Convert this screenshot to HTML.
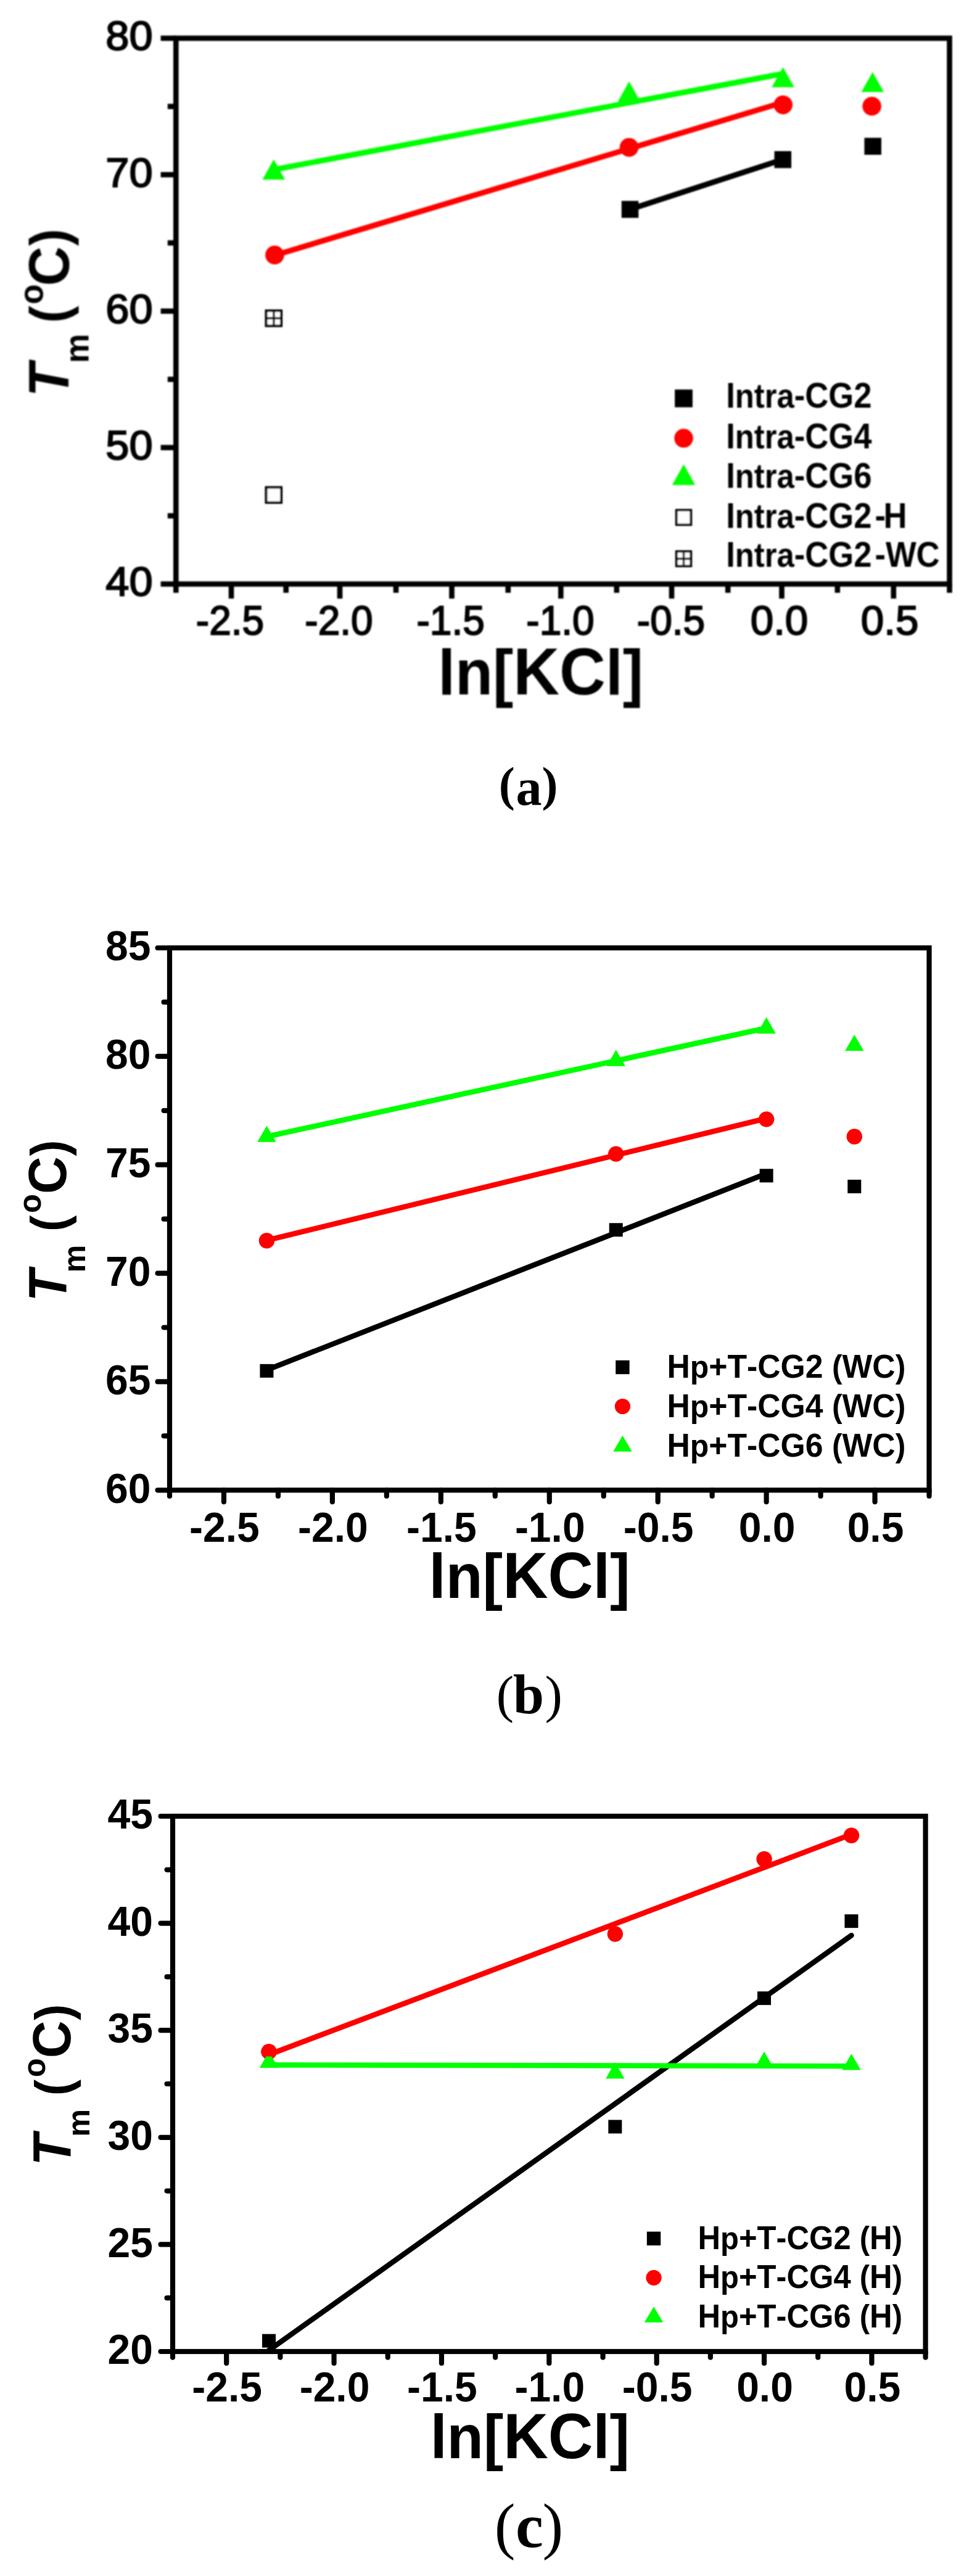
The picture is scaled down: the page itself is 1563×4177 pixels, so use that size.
<!DOCTYPE html>
<html lang="en"><head><meta charset="utf-8"><title>Tm versus ln[KCl]</title>
<style>html,body{margin:0;padding:0;background:#fff}svg{display:block}text{fill:#000;font-kerning:none;font-variant-ligatures:none}</style>
</head><body>
<svg width="1563" height="4177" viewBox="0 0 1563 4177">
<rect x="0" y="0" width="1563" height="4177" fill="#fff"/>
<!-- chart a -->
<defs><filter id="soft" x="-2%" y="-2%" width="104%" height="104%"><feGaussianBlur stdDeviation="0.85"/></filter></defs>
<g filter="url(#soft)">
<line x1="444.5" y1="275" x2="1269.5" y2="119.5" stroke="#0f0" stroke-width="9" stroke-linecap="butt"/>
<line x1="445.4" y1="414" x2="1269.7" y2="166" stroke="#f00" stroke-width="9" stroke-linecap="butt"/>
<line x1="1021.5" y1="339.5" x2="1269.5" y2="258.5" stroke="#000" stroke-width="9" stroke-linecap="butt"/>
<rect x="1007.75" y="325.75" width="27.5" height="27.5" fill="#000"/>
<rect x="1255.55" y="245.05" width="27.5" height="27.5" fill="#000"/>
<rect x="1401.45" y="223.45" width="27.5" height="27.5" fill="#000"/>
<circle cx="445.4" cy="413.5" r="15.25" fill="#f00"/>
<circle cx="1020" cy="239" r="15.25" fill="#f00"/>
<circle cx="1269.7" cy="170" r="15.25" fill="#f00"/>
<circle cx="1413.6" cy="172.2" r="15.25" fill="#f00"/>
<polygon points="443.8,258.4 425.5,291.2 462.1,291.2" fill="#0f0"/>
<polygon points="1020,132 1001.7,165 1038.3,165" fill="#0f0"/>
<polygon points="1269.5,109 1251.2,141.4 1287.8,141.4" fill="#0f0"/>
<polygon points="1414.8,117 1396.5,149.2 1433.1,149.2" fill="#0f0"/>
<rect x="431.5" y="790.3" width="24.6" height="24.6" fill="#fff" stroke="#000" stroke-width="4"/>
<rect x="431.5" y="503.8" width="24.6" height="24.6" fill="#fff" stroke="#000" stroke-width="4"/>
<line x1="443.8" y1="503.8" x2="443.8" y2="528.4" stroke="#000" stroke-width="3.6" stroke-linecap="butt"/>
<line x1="431.5" y1="516.1" x2="456.1" y2="516.1" stroke="#000" stroke-width="3.6" stroke-linecap="butt"/>
<rect x="285.3" y="62" width="1254.2" height="885" fill="none" stroke="#000" stroke-width="8.6"/>
<line x1="260.6" y1="62" x2="285.3" y2="62" stroke="#000" stroke-width="8.6" stroke-linecap="butt"/>
<text transform="translate(247.6,81.4) scale(1.0400,1)" font-family='"Liberation Sans", Arial, Helvetica, sans-serif' font-size="66" font-weight="normal" font-style="normal" text-anchor="end" stroke="#000" stroke-width="2">80</text>
<line x1="271.8" y1="172.62" x2="285.3" y2="172.62" stroke="#000" stroke-width="8.6" stroke-linecap="butt"/>
<line x1="260.6" y1="283.25" x2="285.3" y2="283.25" stroke="#000" stroke-width="8.6" stroke-linecap="butt"/>
<text transform="translate(247.6,302.65) scale(1.0400,1)" font-family='"Liberation Sans", Arial, Helvetica, sans-serif' font-size="66" font-weight="normal" font-style="normal" text-anchor="end" stroke="#000" stroke-width="2">70</text>
<line x1="271.8" y1="393.88" x2="285.3" y2="393.88" stroke="#000" stroke-width="8.6" stroke-linecap="butt"/>
<line x1="260.6" y1="504.5" x2="285.3" y2="504.5" stroke="#000" stroke-width="8.6" stroke-linecap="butt"/>
<text transform="translate(247.6,523.9) scale(1.0400,1)" font-family='"Liberation Sans", Arial, Helvetica, sans-serif' font-size="66" font-weight="normal" font-style="normal" text-anchor="end" stroke="#000" stroke-width="2">60</text>
<line x1="271.8" y1="615.12" x2="285.3" y2="615.12" stroke="#000" stroke-width="8.6" stroke-linecap="butt"/>
<line x1="260.6" y1="725.75" x2="285.3" y2="725.75" stroke="#000" stroke-width="8.6" stroke-linecap="butt"/>
<text transform="translate(247.6,745.15) scale(1.0400,1)" font-family='"Liberation Sans", Arial, Helvetica, sans-serif' font-size="66" font-weight="normal" font-style="normal" text-anchor="end" stroke="#000" stroke-width="2">50</text>
<line x1="271.8" y1="836.38" x2="285.3" y2="836.38" stroke="#000" stroke-width="8.6" stroke-linecap="butt"/>
<line x1="260.6" y1="947" x2="285.3" y2="947" stroke="#000" stroke-width="8.6" stroke-linecap="butt"/>
<text transform="translate(247.6,966.4) scale(1.0400,1)" font-family='"Liberation Sans", Arial, Helvetica, sans-serif' font-size="66" font-weight="normal" font-style="normal" text-anchor="end" stroke="#000" stroke-width="2">40</text>
<line x1="285.3" y1="947" x2="285.3" y2="961.2" stroke="#000" stroke-width="8.6" stroke-linecap="butt"/>
<line x1="375" y1="947" x2="375" y2="970.6" stroke="#000" stroke-width="8.6" stroke-linecap="butt"/>
<text transform="translate(373,1028.8) scale(0.9700,1)" font-family='"Liberation Sans", Arial, Helvetica, sans-serif' font-size="66" font-weight="normal" font-style="normal" text-anchor="middle" stroke="#000" stroke-width="2">-2.5</text>
<line x1="463.7" y1="947" x2="463.7" y2="961.2" stroke="#000" stroke-width="8.6" stroke-linecap="butt"/>
<line x1="551" y1="947" x2="551" y2="970.6" stroke="#000" stroke-width="8.6" stroke-linecap="butt"/>
<text transform="translate(549.5,1028.8) scale(0.9700,1)" font-family='"Liberation Sans", Arial, Helvetica, sans-serif' font-size="66" font-weight="normal" font-style="normal" text-anchor="middle" stroke="#000" stroke-width="2">-2.0</text>
<line x1="642" y1="947" x2="642" y2="961.2" stroke="#000" stroke-width="8.6" stroke-linecap="butt"/>
<line x1="732.5" y1="947" x2="732.5" y2="970.6" stroke="#000" stroke-width="8.6" stroke-linecap="butt"/>
<text transform="translate(730.7,1028.8) scale(0.9700,1)" font-family='"Liberation Sans", Arial, Helvetica, sans-serif' font-size="66" font-weight="normal" font-style="normal" text-anchor="middle" stroke="#000" stroke-width="2">-1.5</text>
<line x1="823.8" y1="947" x2="823.8" y2="961.2" stroke="#000" stroke-width="8.6" stroke-linecap="butt"/>
<line x1="909.3" y1="947" x2="909.3" y2="970.6" stroke="#000" stroke-width="8.6" stroke-linecap="butt"/>
<text transform="translate(908.5,1028.8) scale(0.9700,1)" font-family='"Liberation Sans", Arial, Helvetica, sans-serif' font-size="66" font-weight="normal" font-style="normal" text-anchor="middle" stroke="#000" stroke-width="2">-1.0</text>
<line x1="999.8" y1="947" x2="999.8" y2="961.2" stroke="#000" stroke-width="8.6" stroke-linecap="butt"/>
<line x1="1089" y1="947" x2="1089" y2="970.6" stroke="#000" stroke-width="8.6" stroke-linecap="butt"/>
<text transform="translate(1088,1028.8) scale(0.9700,1)" font-family='"Liberation Sans", Arial, Helvetica, sans-serif' font-size="66" font-weight="normal" font-style="normal" text-anchor="middle" stroke="#000" stroke-width="2">-0.5</text>
<line x1="1180.2" y1="947" x2="1180.2" y2="961.2" stroke="#000" stroke-width="8.6" stroke-linecap="butt"/>
<line x1="1267.5" y1="947" x2="1267.5" y2="970.6" stroke="#000" stroke-width="8.6" stroke-linecap="butt"/>
<text transform="translate(1263.5,1028.8) scale(1.0200,1)" font-family='"Liberation Sans", Arial, Helvetica, sans-serif' font-size="66" font-weight="normal" font-style="normal" text-anchor="middle" stroke="#000" stroke-width="2">0.0</text>
<line x1="1357.8" y1="947" x2="1357.8" y2="961.2" stroke="#000" stroke-width="8.6" stroke-linecap="butt"/>
<line x1="1448.8" y1="947" x2="1448.8" y2="970.6" stroke="#000" stroke-width="8.6" stroke-linecap="butt"/>
<text transform="translate(1442.6,1028.8) scale(1.0200,1)" font-family='"Liberation Sans", Arial, Helvetica, sans-serif' font-size="66" font-weight="normal" font-style="normal" text-anchor="middle" stroke="#000" stroke-width="2">0.5</text>
<line x1="1539.5" y1="947" x2="1539.5" y2="961.2" stroke="#000" stroke-width="8.6" stroke-linecap="butt"/>
<rect x="1094.1" y="631.6" width="28.8" height="28.8" fill="#000"/>
<circle cx="1108.5" cy="710.6" r="15.25" fill="#f00"/>
<polygon points="1108.5,753 1089.8,786.4 1127.2,786.4" fill="#0f0"/>
<rect x="1096.7" y="827.2" width="23.6" height="23.6" fill="#fff" stroke="#000" stroke-width="3.8"/>
<rect x="1096.7" y="894.2" width="23.6" height="23.6" fill="#fff" stroke="#000" stroke-width="3.8"/>
<line x1="1108.5" y1="894.2" x2="1108.5" y2="917.8" stroke="#000" stroke-width="3.4" stroke-linecap="butt"/>
<line x1="1096.7" y1="906" x2="1120.3" y2="906" stroke="#000" stroke-width="3.4" stroke-linecap="butt"/>
<text transform="translate(1177.2,661) scale(0.9115,1)" font-family='"Liberation Sans", Arial, Helvetica, sans-serif' font-size="57.72" font-weight="bold" text-anchor="start">I<tspan font-size="55.7">ntra</tspan>-CG2</text>
<text transform="translate(1177.2,727.4) scale(0.9115,1)" font-family='"Liberation Sans", Arial, Helvetica, sans-serif' font-size="57.72" font-weight="bold" text-anchor="start">I<tspan font-size="55.7">ntra</tspan>-CG4</text>
<text transform="translate(1177.2,790.6) scale(0.9115,1)" font-family='"Liberation Sans", Arial, Helvetica, sans-serif' font-size="57.72" font-weight="bold" text-anchor="start">I<tspan font-size="55.7">ntra</tspan>-CG6</text>
<text transform="translate(1177.2,856) scale(0.9115,1)" font-family='"Liberation Sans", Arial, Helvetica, sans-serif' font-size="57.72" font-weight="bold" text-anchor="start">I<tspan font-size="55.7">ntra</tspan>-CG2<tspan dx="5.5" letter-spacing="-3.8">-H</tspan></text>
<text transform="translate(1177.2,918.6) scale(0.9115,1)" font-family='"Liberation Sans", Arial, Helvetica, sans-serif' font-size="57.72" font-weight="bold" text-anchor="start">I<tspan font-size="55.7">ntra</tspan>-CG2<tspan dx="5.5">-WC</tspan></text>
<text transform="translate(111.5,637) rotate(-90) scale(0.9615,1)" font-family='"Liberation Sans", Arial, Helvetica, sans-serif' font-weight="bold" font-size="92.56"><tspan x="-6.66" y="0" font-style="italic">T</tspan><tspan x="50.13" y="32" font-size="55.55">m</tspan><tspan x="93.61" y="-2" font-size="87"> (</tspan><tspan x="149.24" y="-42.5" font-size="55.55">o</tspan><tspan x="180.13" y="0">C</tspan><tspan x="247.73" y="-2" font-size="87">)</tspan></text>
<text transform="translate(876.6,1126.3) scale(0.9615,1)" font-family='"Liberation Sans", Arial, Helvetica, sans-serif' font-size="107.74" font-weight="bold" text-anchor="middle"><tspan font-size="103.97">ln[</tspan>KC<tspan font-size="103.97">l]</tspan></text>
</g>
<text font-family='"Liberation Serif", "Times New Roman", serif' font-weight="bold"><tspan x="808.8" y="1297.5" font-size="78">(</tspan><tspan x="836.5" y="1305.2" font-size="84" font-weight="bold">a</tspan><tspan x="878.6" y="1297.5" font-size="78">)</tspan></text>
<!-- chart b -->
<g>
<line x1="432.43" y1="2221.45" x2="1242.61" y2="1903.05" stroke="#000" stroke-width="8.6" stroke-linecap="butt"/>
<line x1="432.43" y1="2011.25" x2="1242.61" y2="1813.52" stroke="#f00" stroke-width="8.6" stroke-linecap="butt"/>
<line x1="432.43" y1="1842.96" x2="1242.61" y2="1667.06" stroke="#0f0" stroke-width="8.6" stroke-linecap="butt"/>
<rect x="421.43" y="2211.85" width="22" height="22" fill="#000"/>
<rect x="987.72" y="1983.24" width="22" height="22" fill="#000"/>
<rect x="1231.61" y="1895.31" width="22" height="22" fill="#000"/>
<rect x="1374.27" y="1912.89" width="22" height="22" fill="#000"/>
<circle cx="432.43" cy="2011.82" r="12.7" fill="#f00"/>
<circle cx="998.72" cy="1871.13" r="12.7" fill="#f00"/>
<circle cx="1242.61" cy="1814.86" r="12.7" fill="#f00"/>
<circle cx="1385.27" cy="1843" r="12.7" fill="#f00"/>
<polygon points="432.43,1825.4 417.23,1851.8 447.63,1851.8" fill="#0f0"/>
<polygon points="998.72,1702.29 983.52,1728.69 1013.92,1728.69" fill="#0f0"/>
<polygon points="1242.61,1649.54 1227.41,1675.94 1257.81,1675.94" fill="#0f0"/>
<polygon points="1385.27,1677.67 1370.07,1704.07 1400.47,1704.07" fill="#0f0"/>
<rect x="275" y="1537" width="1231.5" height="879.3" fill="none" stroke="#000" stroke-width="8.2"/>
<line x1="255.6" y1="1537" x2="275" y2="1537" stroke="#000" stroke-width="8.2" stroke-linecap="round"/>
<text transform="translate(244.5,1557.2) scale(0.9615,1)" font-family='"Liberation Sans", Arial, Helvetica, sans-serif' font-size="68.64" font-weight="bold" font-style="normal" text-anchor="end">85</text>
<line x1="265.6" y1="1624.93" x2="275" y2="1624.93" stroke="#000" stroke-width="8.2" stroke-linecap="round"/>
<line x1="255.6" y1="1712.86" x2="275" y2="1712.86" stroke="#000" stroke-width="8.2" stroke-linecap="round"/>
<text transform="translate(244.5,1733.06) scale(0.9615,1)" font-family='"Liberation Sans", Arial, Helvetica, sans-serif' font-size="68.64" font-weight="bold" font-style="normal" text-anchor="end">80</text>
<line x1="265.6" y1="1800.79" x2="275" y2="1800.79" stroke="#000" stroke-width="8.2" stroke-linecap="round"/>
<line x1="255.6" y1="1888.72" x2="275" y2="1888.72" stroke="#000" stroke-width="8.2" stroke-linecap="round"/>
<text transform="translate(244.5,1908.92) scale(0.9615,1)" font-family='"Liberation Sans", Arial, Helvetica, sans-serif' font-size="68.64" font-weight="bold" font-style="normal" text-anchor="end">75</text>
<line x1="265.6" y1="1976.65" x2="275" y2="1976.65" stroke="#000" stroke-width="8.2" stroke-linecap="round"/>
<line x1="255.6" y1="2064.58" x2="275" y2="2064.58" stroke="#000" stroke-width="8.2" stroke-linecap="round"/>
<text transform="translate(244.5,2084.78) scale(0.9615,1)" font-family='"Liberation Sans", Arial, Helvetica, sans-serif' font-size="68.64" font-weight="bold" font-style="normal" text-anchor="end">70</text>
<line x1="265.6" y1="2152.51" x2="275" y2="2152.51" stroke="#000" stroke-width="8.2" stroke-linecap="round"/>
<line x1="255.6" y1="2240.44" x2="275" y2="2240.44" stroke="#000" stroke-width="8.2" stroke-linecap="round"/>
<text transform="translate(244.5,2260.64) scale(0.9615,1)" font-family='"Liberation Sans", Arial, Helvetica, sans-serif' font-size="68.64" font-weight="bold" font-style="normal" text-anchor="end">65</text>
<line x1="265.6" y1="2328.37" x2="275" y2="2328.37" stroke="#000" stroke-width="8.2" stroke-linecap="round"/>
<line x1="255.6" y1="2416.3" x2="275" y2="2416.3" stroke="#000" stroke-width="8.2" stroke-linecap="round"/>
<text transform="translate(244.5,2436.5) scale(0.9615,1)" font-family='"Liberation Sans", Arial, Helvetica, sans-serif' font-size="68.64" font-weight="bold" font-style="normal" text-anchor="end">60</text>
<line x1="275" y1="2416.3" x2="275" y2="2425.9" stroke="#000" stroke-width="8.2" stroke-linecap="round"/>
<line x1="362.96" y1="2416.3" x2="362.96" y2="2435.3" stroke="#000" stroke-width="8.2" stroke-linecap="round"/>
<text transform="translate(363.96,2499.6) scale(0.9615,1)" font-family='"Liberation Sans", Arial, Helvetica, sans-serif' font-size="68.64" font-weight="bold" font-style="normal" text-anchor="middle">-2.5</text>
<line x1="450.93" y1="2416.3" x2="450.93" y2="2425.9" stroke="#000" stroke-width="8.2" stroke-linecap="round"/>
<line x1="538.89" y1="2416.3" x2="538.89" y2="2435.3" stroke="#000" stroke-width="8.2" stroke-linecap="round"/>
<text transform="translate(539.89,2499.6) scale(0.9615,1)" font-family='"Liberation Sans", Arial, Helvetica, sans-serif' font-size="68.64" font-weight="bold" font-style="normal" text-anchor="middle">-2.0</text>
<line x1="626.86" y1="2416.3" x2="626.86" y2="2425.9" stroke="#000" stroke-width="8.2" stroke-linecap="round"/>
<line x1="714.82" y1="2416.3" x2="714.82" y2="2435.3" stroke="#000" stroke-width="8.2" stroke-linecap="round"/>
<text transform="translate(715.82,2499.6) scale(0.9615,1)" font-family='"Liberation Sans", Arial, Helvetica, sans-serif' font-size="68.64" font-weight="bold" font-style="normal" text-anchor="middle">-1.5</text>
<line x1="802.79" y1="2416.3" x2="802.79" y2="2425.9" stroke="#000" stroke-width="8.2" stroke-linecap="round"/>
<line x1="890.75" y1="2416.3" x2="890.75" y2="2435.3" stroke="#000" stroke-width="8.2" stroke-linecap="round"/>
<text transform="translate(891.75,2499.6) scale(0.9615,1)" font-family='"Liberation Sans", Arial, Helvetica, sans-serif' font-size="68.64" font-weight="bold" font-style="normal" text-anchor="middle">-1.0</text>
<line x1="978.71" y1="2416.3" x2="978.71" y2="2425.9" stroke="#000" stroke-width="8.2" stroke-linecap="round"/>
<line x1="1066.68" y1="2416.3" x2="1066.68" y2="2435.3" stroke="#000" stroke-width="8.2" stroke-linecap="round"/>
<text transform="translate(1067.68,2499.6) scale(0.9615,1)" font-family='"Liberation Sans", Arial, Helvetica, sans-serif' font-size="68.64" font-weight="bold" font-style="normal" text-anchor="middle">-0.5</text>
<line x1="1154.64" y1="2416.3" x2="1154.64" y2="2425.9" stroke="#000" stroke-width="8.2" stroke-linecap="round"/>
<line x1="1242.61" y1="2416.3" x2="1242.61" y2="2435.3" stroke="#000" stroke-width="8.2" stroke-linecap="round"/>
<text transform="translate(1243.61,2499.6) scale(0.9615,1)" font-family='"Liberation Sans", Arial, Helvetica, sans-serif' font-size="68.64" font-weight="bold" font-style="normal" text-anchor="middle">0.0</text>
<line x1="1330.57" y1="2416.3" x2="1330.57" y2="2425.9" stroke="#000" stroke-width="8.2" stroke-linecap="round"/>
<line x1="1418.54" y1="2416.3" x2="1418.54" y2="2435.3" stroke="#000" stroke-width="8.2" stroke-linecap="round"/>
<text transform="translate(1419.54,2499.6) scale(0.9615,1)" font-family='"Liberation Sans", Arial, Helvetica, sans-serif' font-size="68.64" font-weight="bold" font-style="normal" text-anchor="middle">0.5</text>
<line x1="1506.5" y1="2416.3" x2="1506.5" y2="2425.9" stroke="#000" stroke-width="8.2" stroke-linecap="round"/>
<rect x="998.2" y="2205.8" width="22.4" height="22.4" fill="#000"/>
<text transform="translate(1081.5,2233.6) scale(0.9615,1)" font-family='"Liberation Sans", Arial, Helvetica, sans-serif' font-size="53.77" font-weight="bold" text-anchor="start">H<tspan font-size="51.89">p</tspan>+T-CG2 <tspan font-size="51.89">(</tspan>WC<tspan font-size="51.89">)</tspan></text>
<circle cx="1009.4" cy="2280.5" r="12.6" fill="#f00"/>
<text transform="translate(1081.5,2297.6) scale(0.9615,1)" font-family='"Liberation Sans", Arial, Helvetica, sans-serif' font-size="53.77" font-weight="bold" text-anchor="start">H<tspan font-size="51.89">p</tspan>+T-CG4 <tspan font-size="51.89">(</tspan>WC<tspan font-size="51.89">)</tspan></text>
<polygon points="1009.4,2327.8 994.2,2353.7 1024.6,2353.7" fill="#0f0"/>
<text transform="translate(1081.5,2361.5) scale(0.9615,1)" font-family='"Liberation Sans", Arial, Helvetica, sans-serif' font-size="53.77" font-weight="bold" text-anchor="start">H<tspan font-size="51.89">p</tspan>+T-CG6 <tspan font-size="51.89">(</tspan>WC<tspan font-size="51.89">)</tspan></text>
<text transform="translate(107,2104.6) rotate(-90) scale(0.9615,1)" font-family='"Liberation Sans", Arial, Helvetica, sans-serif' font-weight="bold" font-size="87.36"><tspan x="-6.24" y="0" font-style="italic">T</tspan><tspan x="42.64" y="30.5" font-size="52.52">m</tspan><tspan x="89.07" y="0" font-size="81.9"> (</tspan><tspan x="143" y="-41" font-size="52.52">o</tspan><tspan x="175.24" y="0">C</tspan><tspan x="239.2" y="0" font-size="81.9">)</tspan></text>
<text transform="translate(858.6,2591.2) scale(0.9615,1)" font-family='"Liberation Sans", Arial, Helvetica, sans-serif' font-size="105.56" font-weight="bold" text-anchor="middle"><tspan font-size="101.87">ln[</tspan>KC<tspan font-size="101.87">l]</tspan></text>
</g>
<text font-family='"Liberation Serif", "Times New Roman", serif' font-weight="normal"><tspan x="804.7" y="2776" font-size="85">(</tspan><tspan x="832" y="2777.5" font-size="90" font-weight="bold">b</tspan><tspan x="883.5" y="2776" font-size="85">)</tspan></text>
<!-- chart c -->
<g>
<line x1="436.03" y1="3810.94" x2="1380.45" y2="3138.26" stroke="#000" stroke-width="8.6" stroke-linecap="round"/>
<line x1="436.03" y1="3331.61" x2="1380.45" y2="2974.55" stroke="#f00" stroke-width="8.6" stroke-linecap="butt"/>
<line x1="436.03" y1="3348.38" x2="1380.45" y2="3350.19" stroke="#0f0" stroke-width="8.6" stroke-linecap="butt"/>
<rect x="425.03" y="3784.64" width="22" height="22" fill="#000"/>
<rect x="986.31" y="3437.44" width="22" height="22" fill="#000"/>
<rect x="1228.04" y="3229.12" width="22" height="22" fill="#000"/>
<rect x="1369.45" y="3104.13" width="22" height="22" fill="#000"/>
<circle cx="436.03" cy="3326.92" r="12.7" fill="#f00"/>
<circle cx="997.31" cy="3135.96" r="12.7" fill="#f00"/>
<circle cx="1239.04" cy="3014.44" r="12.7" fill="#f00"/>
<circle cx="1380.45" cy="2976.25" r="12.7" fill="#f00"/>
<polygon points="436.03,3326.68 420.83,3353.08 451.23,3353.08" fill="#0f0"/>
<polygon points="997.31,3344.04 982.11,3370.44 1012.51,3370.44" fill="#0f0"/>
<polygon points="1239.04,3326.68 1223.84,3353.08 1254.24,3353.08" fill="#0f0"/>
<polygon points="1380.45,3330.15 1365.25,3356.55 1395.65,3356.55" fill="#0f0"/>
<clipPath id="topclip"><rect x="416.03" y="3306.92" width="40" height="27.6"/></clipPath>
<circle cx="436.03" cy="3326.92" r="12.7" fill="#f00" clip-path="url(#topclip)"/>
<rect x="280" y="2945" width="1220.6" height="868" fill="none" stroke="#000" stroke-width="8.2"/>
<line x1="260.6" y1="2945" x2="280" y2="2945" stroke="#000" stroke-width="8.2" stroke-linecap="round"/>
<text transform="translate(248,2965.2) scale(0.9615,1)" font-family='"Liberation Sans", Arial, Helvetica, sans-serif' font-size="68.64" font-weight="bold" font-style="normal" text-anchor="end">45</text>
<line x1="270.6" y1="3031.8" x2="280" y2="3031.8" stroke="#000" stroke-width="8.2" stroke-linecap="round"/>
<line x1="260.6" y1="3118.6" x2="280" y2="3118.6" stroke="#000" stroke-width="8.2" stroke-linecap="round"/>
<text transform="translate(248,3138.8) scale(0.9615,1)" font-family='"Liberation Sans", Arial, Helvetica, sans-serif' font-size="68.64" font-weight="bold" font-style="normal" text-anchor="end">40</text>
<line x1="270.6" y1="3205.4" x2="280" y2="3205.4" stroke="#000" stroke-width="8.2" stroke-linecap="round"/>
<line x1="260.6" y1="3292.2" x2="280" y2="3292.2" stroke="#000" stroke-width="8.2" stroke-linecap="round"/>
<text transform="translate(248,3312.4) scale(0.9615,1)" font-family='"Liberation Sans", Arial, Helvetica, sans-serif' font-size="68.64" font-weight="bold" font-style="normal" text-anchor="end">35</text>
<line x1="270.6" y1="3379" x2="280" y2="3379" stroke="#000" stroke-width="8.2" stroke-linecap="round"/>
<line x1="260.6" y1="3465.8" x2="280" y2="3465.8" stroke="#000" stroke-width="8.2" stroke-linecap="round"/>
<text transform="translate(248,3486) scale(0.9615,1)" font-family='"Liberation Sans", Arial, Helvetica, sans-serif' font-size="68.64" font-weight="bold" font-style="normal" text-anchor="end">30</text>
<line x1="270.6" y1="3552.6" x2="280" y2="3552.6" stroke="#000" stroke-width="8.2" stroke-linecap="round"/>
<line x1="260.6" y1="3639.4" x2="280" y2="3639.4" stroke="#000" stroke-width="8.2" stroke-linecap="round"/>
<text transform="translate(248,3659.6) scale(0.9615,1)" font-family='"Liberation Sans", Arial, Helvetica, sans-serif' font-size="68.64" font-weight="bold" font-style="normal" text-anchor="end">25</text>
<line x1="270.6" y1="3726.2" x2="280" y2="3726.2" stroke="#000" stroke-width="8.2" stroke-linecap="round"/>
<line x1="260.6" y1="3813" x2="280" y2="3813" stroke="#000" stroke-width="8.2" stroke-linecap="round"/>
<text transform="translate(248,3833.2) scale(0.9615,1)" font-family='"Liberation Sans", Arial, Helvetica, sans-serif' font-size="68.64" font-weight="bold" font-style="normal" text-anchor="end">20</text>
<line x1="280" y1="3813" x2="280" y2="3822.6" stroke="#000" stroke-width="8.2" stroke-linecap="round"/>
<line x1="367.19" y1="3813" x2="367.19" y2="3832" stroke="#000" stroke-width="8.2" stroke-linecap="round"/>
<text transform="translate(368.19,3894.2) scale(0.9615,1)" font-family='"Liberation Sans", Arial, Helvetica, sans-serif' font-size="68.64" font-weight="bold" font-style="normal" text-anchor="middle">-2.5</text>
<line x1="454.37" y1="3813" x2="454.37" y2="3822.6" stroke="#000" stroke-width="8.2" stroke-linecap="round"/>
<line x1="541.56" y1="3813" x2="541.56" y2="3832" stroke="#000" stroke-width="8.2" stroke-linecap="round"/>
<text transform="translate(542.56,3894.2) scale(0.9615,1)" font-family='"Liberation Sans", Arial, Helvetica, sans-serif' font-size="68.64" font-weight="bold" font-style="normal" text-anchor="middle">-2.0</text>
<line x1="628.74" y1="3813" x2="628.74" y2="3822.6" stroke="#000" stroke-width="8.2" stroke-linecap="round"/>
<line x1="715.93" y1="3813" x2="715.93" y2="3832" stroke="#000" stroke-width="8.2" stroke-linecap="round"/>
<text transform="translate(716.93,3894.2) scale(0.9615,1)" font-family='"Liberation Sans", Arial, Helvetica, sans-serif' font-size="68.64" font-weight="bold" font-style="normal" text-anchor="middle">-1.5</text>
<line x1="803.11" y1="3813" x2="803.11" y2="3822.6" stroke="#000" stroke-width="8.2" stroke-linecap="round"/>
<line x1="890.3" y1="3813" x2="890.3" y2="3832" stroke="#000" stroke-width="8.2" stroke-linecap="round"/>
<text transform="translate(891.3,3894.2) scale(0.9615,1)" font-family='"Liberation Sans", Arial, Helvetica, sans-serif' font-size="68.64" font-weight="bold" font-style="normal" text-anchor="middle">-1.0</text>
<line x1="977.49" y1="3813" x2="977.49" y2="3822.6" stroke="#000" stroke-width="8.2" stroke-linecap="round"/>
<line x1="1064.67" y1="3813" x2="1064.67" y2="3832" stroke="#000" stroke-width="8.2" stroke-linecap="round"/>
<text transform="translate(1065.67,3894.2) scale(0.9615,1)" font-family='"Liberation Sans", Arial, Helvetica, sans-serif' font-size="68.64" font-weight="bold" font-style="normal" text-anchor="middle">-0.5</text>
<line x1="1151.86" y1="3813" x2="1151.86" y2="3822.6" stroke="#000" stroke-width="8.2" stroke-linecap="round"/>
<line x1="1239.04" y1="3813" x2="1239.04" y2="3832" stroke="#000" stroke-width="8.2" stroke-linecap="round"/>
<text transform="translate(1240.04,3894.2) scale(0.9615,1)" font-family='"Liberation Sans", Arial, Helvetica, sans-serif' font-size="68.64" font-weight="bold" font-style="normal" text-anchor="middle">0.0</text>
<line x1="1326.23" y1="3813" x2="1326.23" y2="3822.6" stroke="#000" stroke-width="8.2" stroke-linecap="round"/>
<line x1="1413.41" y1="3813" x2="1413.41" y2="3832" stroke="#000" stroke-width="8.2" stroke-linecap="round"/>
<text transform="translate(1414.41,3894.2) scale(0.9615,1)" font-family='"Liberation Sans", Arial, Helvetica, sans-serif' font-size="68.64" font-weight="bold" font-style="normal" text-anchor="middle">0.5</text>
<line x1="1500.6" y1="3813" x2="1500.6" y2="3822.6" stroke="#000" stroke-width="8.2" stroke-linecap="round"/>
<rect x="1048.8" y="3618.6" width="22.4" height="22.4" fill="#000"/>
<text transform="translate(1131.5,3647) scale(0.9615,1)" font-family='"Liberation Sans", Arial, Helvetica, sans-serif' font-size="52.73" font-weight="bold" text-anchor="start">H<tspan font-size="50.88">p</tspan>+T-CG2 <tspan font-size="50.88">(</tspan>H<tspan font-size="50.88">)</tspan></text>
<circle cx="1060" cy="3693.3" r="12.6" fill="#f00"/>
<text transform="translate(1131.5,3709.9) scale(0.9615,1)" font-family='"Liberation Sans", Arial, Helvetica, sans-serif' font-size="52.73" font-weight="bold" text-anchor="start">H<tspan font-size="50.88">p</tspan>+T-CG4 <tspan font-size="50.88">(</tspan>H<tspan font-size="50.88">)</tspan></text>
<polygon points="1060,3740.3 1044.8,3765.8 1075.2,3765.8" fill="#0f0"/>
<text transform="translate(1131.5,3773.7) scale(0.9615,1)" font-family='"Liberation Sans", Arial, Helvetica, sans-serif' font-size="52.73" font-weight="bold" text-anchor="start">H<tspan font-size="50.88">p</tspan>+T-CG6 <tspan font-size="50.88">(</tspan>H<tspan font-size="50.88">)</tspan></text>
<text transform="translate(114,3505.8) rotate(-90) scale(0.9615,1)" font-family='"Liberation Sans", Arial, Helvetica, sans-serif' font-weight="bold" font-size="87.36"><tspan x="-6.24" y="0" font-style="italic">T</tspan><tspan x="42.64" y="30.5" font-size="52.52">m</tspan><tspan x="89.07" y="0" font-size="81.9"> (</tspan><tspan x="143" y="-41" font-size="52.52">o</tspan><tspan x="175.24" y="0">C</tspan><tspan x="239.2" y="0" font-size="81.9">)</tspan></text>
<text transform="translate(859.2,3985.5) scale(0.9615,1)" font-family='"Liberation Sans", Arial, Helvetica, sans-serif' font-size="104.62" font-weight="bold" text-anchor="middle"><tspan font-size="100.96">ln[</tspan>KC<tspan font-size="100.96">l]</tspan></text>
</g>
<text font-family='"Liberation Serif", "Times New Roman", serif' font-weight="normal"><tspan x="801.8" y="4129.5" font-size="101.3">(</tspan><tspan x="836" y="4129.5" font-size="101.2" font-weight="bold">c</tspan><tspan x="879.6" y="4129.5" font-size="101.3">)</tspan></text>
</svg>
</body></html>
